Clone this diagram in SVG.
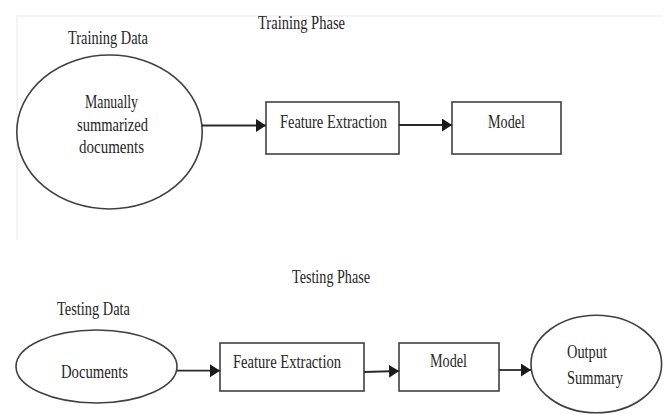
<svg xmlns="http://www.w3.org/2000/svg" width="670" height="414" viewBox="0 0 670 414">
<style>
  text { font-family: "Liberation Serif", "Times New Roman", serif; font-size: 19px; fill: #262626; }
  .shape { fill: #fff; stroke: #404040; stroke-width: 1.6; }
  .conn { stroke: #2a2a2a; stroke-width: 1.8; fill: none; marker-end: url(#arrow); }
  .frame { stroke: #f4f4f4; stroke-width: 2; fill: none; }
</style>
<defs>
  <marker id="arrow" markerUnits="userSpaceOnUse" markerWidth="11" markerHeight="14" refX="10" refY="6.5" orient="auto">
    <path d="M0,0 L10,6.5 L0,13 z" fill="#1a1a1a"/>
  </marker>
</defs>
<rect width="670" height="414" fill="#fff"/>
<path class="frame" d="M662,16 H17 V240"/>

<text x="258" y="29" textLength="87" lengthAdjust="spacingAndGlyphs">Training Phase</text>
<text x="292" y="283" textLength="78" lengthAdjust="spacingAndGlyphs">Testing Phase</text>

<g id="training-data">
  <text x="68" y="44" textLength="80" lengthAdjust="spacingAndGlyphs">Training Data</text>
  <ellipse class="shape" cx="109.5" cy="132" rx="92.7" ry="77"/>
  <text x="85" y="108" textLength="53" lengthAdjust="spacingAndGlyphs">Manually</text>
  <text x="77" y="131" textLength="71" lengthAdjust="spacingAndGlyphs">summarized</text>
  <text x="79" y="153" textLength="65" lengthAdjust="spacingAndGlyphs">documents</text>
</g>
<g id="train-feature">
  <rect class="shape" x="266" y="102" width="133" height="52"/>
  <text x="280" y="128" textLength="107" lengthAdjust="spacingAndGlyphs">Feature Extraction</text>
</g>
<g id="train-model">
  <rect class="shape" x="452" y="102" width="109" height="52"/>
  <text x="488" y="128" textLength="37" lengthAdjust="spacingAndGlyphs">Model</text>
</g>

<g id="testing-data">
  <text x="57" y="315" textLength="73" lengthAdjust="spacingAndGlyphs">Testing Data</text>
  <ellipse class="shape" cx="96.5" cy="366.5" rx="80.5" ry="36.5"/>
  <text x="61" y="377.5" textLength="67" lengthAdjust="spacingAndGlyphs">Documents</text>
</g>
<g id="test-feature">
  <rect class="shape" x="220" y="343" width="144" height="48"/>
  <text x="233" y="367.5" textLength="108" lengthAdjust="spacingAndGlyphs">Feature Extraction</text>
</g>
<g id="test-model">
  <rect class="shape" x="399" y="343" width="100" height="48"/>
  <text x="430" y="367" textLength="37" lengthAdjust="spacingAndGlyphs">Model</text>
</g>
<g id="output-summary">
  <ellipse class="shape" cx="596.3" cy="364" rx="65.3" ry="48.8"/>
  <text x="567" y="358" textLength="40" lengthAdjust="spacingAndGlyphs">Output</text>
  <text x="567" y="384" textLength="56" lengthAdjust="spacingAndGlyphs">Summary</text>
</g>

<g id="connectors">
  <line class="conn" x1="202" y1="125.5" x2="266" y2="125.5"/>
  <line class="conn" x1="399" y1="125" x2="452" y2="125"/>
  <line class="conn" x1="177" y1="370.7" x2="220" y2="370.7"/>
  <line class="conn" x1="364" y1="372" x2="399" y2="371"/>
  <line class="conn" x1="499" y1="370" x2="531" y2="370"/>
</g>
</svg>
